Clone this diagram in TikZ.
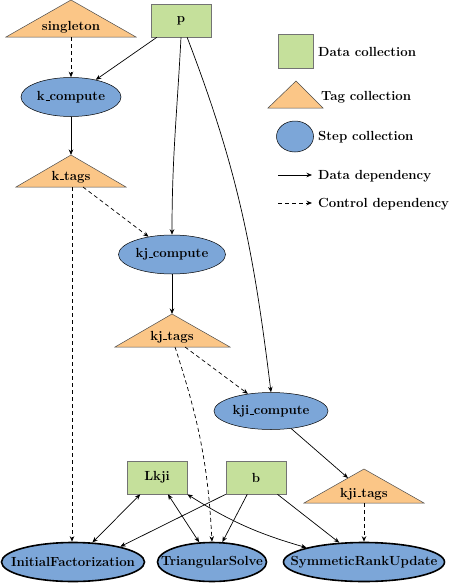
\documentclass[tikz,border=0pt]{standalone}
\usetikzlibrary{shapes.geometric,arrows.meta}
\definecolor{dgreen}{RGB}{197,224,155}
\definecolor{torange}{RGB}{251,198,135}
\definecolor{sblue}{RGB}{124,166,216}
\newcommand{\us}{\kern.06em\vbox{\hrule width .3em height .7pt}}
\newcommand{\zb}[1]{\makebox[0pt]{#1}}
\begin{document}
\begin{tikzpicture}[x=1pt,y=1pt,
 lbl/.style={font=\fontsize{13.2}{15}\selectfont\bfseries, inner sep=0pt},
 datanode/.style={lbl, rectangle, draw=black!55, fill=dgreen, minimum width=60pt, minimum height=33pt, line width=0.6pt},
 stepnode/.style={lbl, ellipse, draw=black, fill=sblue, line width=0.5pt},
 finalnode/.style={stepnode, line width=1.6pt},
 tagshape/.style={draw=black!70, fill=torange, line width=0.5pt},
 dep/.style={-{Stealth[length=5.5pt,width=4.5pt]}, line width=0.7pt},
 ctrl/.style={dep, dash pattern=on 4pt off 3pt},
 bidep/.style={{Stealth[length=5.5pt,width=4.5pt]}-{Stealth[length=5.5pt,width=4.5pt]}, line width=0.7pt}]
\useasboundingbox (0,0) rectangle (457,-584);

% ---- tag triangles
\path[tagshape] (71,0) -- (6,-37) -- (136,-37) -- cycle;
\node[lbl, anchor=base] (singletonlbl) at (71,-30.7) {singleton};
\coordinate (singleton-b) at (71,-37);

\path[tagshape] (71,-155) -- (16,-187) -- (126,-187) -- cycle;
\node[lbl, anchor=base] (ktagslbl) at (71,-180) {k\us tags};
\coordinate (ktags-t) at (71,-155);
\coordinate (ktags-b) at (72,-187);
\coordinate (ktags-b2) at (83,-187);

\path[tagshape] (172,-314) -- (115,-347) -- (230,-347) -- cycle;
\node[lbl, anchor=base] (kjtagslbl) at (172,-340) {kj\us tags};
\coordinate (kjtags-t) at (172,-314);
\coordinate (kjtags-b) at (175,-347);
\coordinate (kjtags-b2) at (185,-347);

\path[tagshape] (364,-469) -- (304,-503) -- (424,-503) -- cycle;
\node[lbl, anchor=base] (kjitagslbl) at (364,-497) {kji\us tags};
\coordinate (kjitags-l) at (348,-478);
\coordinate (kjitags-b) at (364,-503);

% ---- data collections
\node[datanode] (p) at (181,-20.5) {p};
\node[datanode] (Lkji) at (157,-477.5) {Lkji};
\node[datanode] (b) at (256,-477.5) {b};

% ---- step collections
\node[stepnode, minimum width=100pt, minimum height=39pt] (kc) at (71,-97) {\zb{k\us compute}};
\node[stepnode, minimum width=107pt, minimum height=39pt] (kjc) at (172,-254.5) {\zb{kj\us compute}};
\node[stepnode, minimum width=114pt, minimum height=37pt] (kjic) at (271,-411) {\zb{kji\us compute}};
\node[finalnode, minimum width=143pt, minimum height=39pt] (IF) at (73,-562) {\zb{InitialFactorization}};
\node[finalnode, minimum width=109pt, minimum height=39pt] (TS) at (212,-562) {\zb{TriangularSolve}};
\node[finalnode, minimum width=161pt, minimum height=39pt] (SRU) at (364,-562) {\zb{SymmeticRankUpdate}};

% ---- legend
\node[datanode, minimum width=35pt, minimum height=34pt] (legdata) at (295.5,-51) {};
\path[tagshape] (296,-81) -- (268,-108) -- (323,-108) -- cycle;
\node[stepnode, minimum width=37pt, minimum height=31pt] (legstep) at (295,-136.5) {};
\coordinate (legd1) at (278,-175);
\coordinate (legd2) at (312,-175);
\coordinate (legc1) at (278,-203);
\coordinate (legc2) at (312,-203);
\draw[dep] (legd1) -- (legd2);
\draw[ctrl] (legc1) -- (legc2);
\node[lbl, anchor=base west] (legdatalbl) at (318,-56) {Data collection};
\node[lbl, anchor=base west] (legtaglbl) at (321,-100.5) {Tag collection};
\node[lbl, anchor=base west] (legsteplbl) at (318,-140) {Step collection};
\node[lbl, anchor=base west] (legdeplbl) at (318,-179) {Data dependency};
\node[lbl, anchor=base west] (legctrllbl) at (318,-207.5) {Control dependency};

% ---- connectors
\draw[ctrl] (singleton-b) -- (kc);
\draw[dep] (p) -- (kc);
\draw[dep] (p.south) to[out=-93,in=90] (kjc.north);
\draw[dep] (p.-70) to[out=-69,in=97] (kjic.north);
\draw[dep] (kc) -- (ktags-t);
\draw[ctrl] (ktags-b2) -- (kjc);
\draw[ctrl] (ktags-b) -- (ktags-b |- IF.north);
\draw[dep] (kjc) -- (kjtags-t);
\draw[ctrl] (kjtags-b2) -- (kjic);
\draw[ctrl] (kjtags-b) to[out=-72,in=93] (TS.north);
\draw[dep] (kjic) -- (kjitags-l);
\draw[ctrl] (kjitags-b) -- (SRU.north);
\draw[bidep] (Lkji) -- (IF);
\draw[bidep] (Lkji) -- (TS);
\draw[bidep] (Lkji.south east) to[bend right=8] (SRU.166);
\draw[dep] (b.south west) -- (IF.18);
\draw[dep] (b) -- (TS);
\draw[dep] (b) -- (SRU);
\end{tikzpicture}
\end{document}
